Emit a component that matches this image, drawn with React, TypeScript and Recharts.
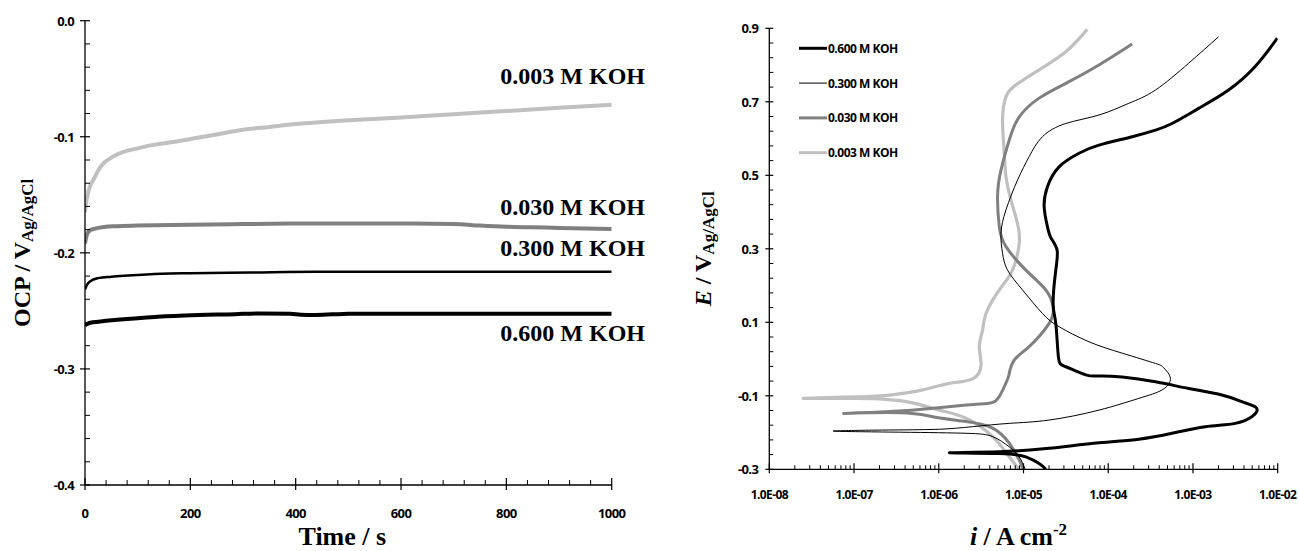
import React from 'react';
import { LineChart, Line, XAxis, YAxis, Label, LabelList, Legend } from 'recharts';

// ---------- Open-circuit potential vs time ----------
const t003 = [0, 2, 5, 10, 16, 25, 35, 50, 70, 100, 130, 160, 200, 250, 300, 350, 400, 450, 500, 600, 700, 800, 900, 1000];
const ocp003 = [-0.165, -0.157, -0.150, -0.142, -0.137, -0.129, -0.123, -0.118, -0.1135, -0.110, -0.107, -0.105, -0.102, -0.098, -0.094, -0.0915, -0.089, -0.0873, -0.0858, -0.0833, -0.0805, -0.0778, -0.075, -0.0725];

const t030 = [0, 2, 5, 10, 17, 36, 60, 100, 200, 300, 400, 500, 600, 700, 750, 800, 850, 900, 950, 1000];
const ocp030 = [-0.192, -0.187, -0.183, -0.1805, -0.1794, -0.1777, -0.177, -0.1765, -0.1758, -0.1752, -0.1748, -0.1748, -0.1748, -0.1752, -0.1765, -0.1775, -0.178, -0.1785, -0.179, -0.1795];

const t300 = [0, 4, 10, 25, 50, 82, 145, 200, 316, 437, 600, 800, 1000];
const ocp300 = [-0.2316, -0.2273, -0.2245, -0.2218, -0.2205, -0.2195, -0.218, -0.2175, -0.2169, -0.2163, -0.2163, -0.2163, -0.2163];

const t600 = [0, 5, 15, 36, 80, 126, 190, 285, 330, 390, 410, 437, 470, 500, 600, 800, 1000];
const ocp600 = [-0.2625, -0.261, -0.2598, -0.2588, -0.257, -0.2554, -0.254, -0.2528, -0.2522, -0.2524, -0.2533, -0.2535, -0.253, -0.2525, -0.2524, -0.2524, -0.2524];

// ---------- Potentiodynamic polarization (current density i, potential E) ----------
const i600 = [1.834e-5, 1.530e-5, 1.067e-5, 5.18e-6, 1.336e-6, 5.18e-6, 2.006e-5, 7.77e-5, 2.297e-4, 5.66e-4, 1.399e-3, 3.154e-3, 4.944e-3, 5.66e-3, 5.42e-3, 3.77e-3, 2.194e-3, 8.90e-4, 3.61e-4, 1.461e-4, 7.77e-5, 5.42e-5, 3.154e-5, 2.581e-5, 2.405e-5, 2.236e-5, 2.405e-5, 2.49e-5, 2.118e-5, 1.916e-5, 1.752e-5, 1.916e-5, 2.63e-5, 4.52e-5, 7.77e-5, 1.916e-4, 3.61e-4, 5.66e-4, 1.167e-3, 2.63e-3, 5.42e-3, 9.9e-3];
const e600 = [-0.3, -0.284, -0.266, -0.257, -0.255, -0.252, -0.243, -0.228, -0.218, -0.202, -0.184, -0.175, -0.157, -0.143, -0.130, -0.116, -0.098, -0.080, -0.062, -0.049, -0.046, -0.043, -0.021, 0.006, 0.097, 0.152, 0.242, 0.297, 0.329, 0.360, 0.415, 0.469, 0.523, 0.560, 0.582, 0.605, 0.623, 0.641, 0.682, 0.732, 0.796, 0.873];

const i300 = [1.047e-5, 8.90e-6, 6.79e-6, 4.32e-6, 2.101e-6, 3.45e-7, 5.66e-8, 2.63e-7, 1.019e-6, 2.51e-6, 6.79e-6, 2.006e-5, 7.77e-5, 2.297e-4, 4.32e-4, 5.42e-4, 4.52e-4, 3.61e-4, 1.461e-4, 5.93e-5, 2.63e-5, 1.673e-5, 9.73e-6, 6.48e-6, 5.66e-6, 5.42e-6, 6.21e-6, 8.50e-6, 1.167e-5, 1.673e-5, 3.154e-5, 7.77e-5, 1.752e-4, 3.61e-4, 8.90e-4, 2.006e-3];
const e300 = [-0.3, -0.266, -0.239, -0.211, -0.202, -0.199, -0.196, -0.193, -0.191, -0.184, -0.175, -0.166, -0.139, -0.107, -0.084, -0.052, -0.024, -0.012, 0.016, 0.047, 0.088, 0.124, 0.188, 0.242, 0.288, 0.342, 0.406, 0.487, 0.551, 0.605, 0.641, 0.664, 0.696, 0.732, 0.805, 0.877];

const i030 = [9.92e-6, 8.90e-6, 6.79e-6, 4.32e-6, 2.101e-6, 8.50e-7, 3.45e-7, 7.56e-8, 2.63e-7, 8.50e-7, 2.101e-6, 3.95e-6, 5.18e-6, 6.43e-6, 6.79e-6, 7.77e-6, 1.167e-5, 2.006e-5, 2.236e-5, 1.834e-5, 1.067e-5, 6.21e-6, 5.18e-6, 4.94e-6, 5.42e-6, 6.79e-6, 8.90e-6, 1.530e-5, 3.154e-5, 7.77e-5, 1.916e-4];
const e030 = [-0.3, -0.275, -0.229, -0.188, -0.170, -0.157, -0.146, -0.148, -0.143, -0.134, -0.125, -0.120, -0.102, -0.057, -0.039, -0.003, 0.034, 0.097, 0.142, 0.188, 0.242, 0.306, 0.360, 0.442, 0.514, 0.596, 0.659, 0.710, 0.750, 0.800, 0.857];

const i003 = [8.90e-6, 6.79e-6, 4.32e-6, 2.101e-6, 1.019e-6, 4.13e-7, 1.067e-7, 2.51e-8, 1.067e-7, 2.63e-7, 6.48e-7, 1.336e-6, 2.51e-6, 3.154e-6, 3.01e-6, 3.29e-6, 3.61e-6, 5.18e-6, 7.42e-6, 8.90e-6, 8.50e-6, 7.11e-6, 6.21e-6, 5.93e-6, 5.66e-6, 6.21e-6, 8.14e-6, 1.530e-5, 3.154e-5, 5.66e-5];
const e003 = [-0.3, -0.266, -0.211, -0.161, -0.139, -0.116, -0.107, -0.107, -0.103, -0.098, -0.084, -0.066, -0.054, -0.016, 0.034, 0.079, 0.124, 0.188, 0.242, 0.315, 0.369, 0.433, 0.496, 0.560, 0.650, 0.714, 0.746, 0.787, 0.836, 0.897];

// ---------- Axis ticks ----------
const timeMajor = [0, 200, 400, 600, 800, 1000];
const timeMinorStep = 40;
const ocpMajor = [0, -0.1, -0.2, -0.3, -0.4];
const ocpMinorStep = 0.02;
const currentDecades = [1e-8, 1e-7, 1e-6, 1e-5, 1e-4, 1e-3, 1e-2];
const currentLabels = ['1.0E-08', '1.0E-07', '1.0E-06', '1.0E-05', '1.0E-04', '1.0E-03', '1.0E-02'];
const potentialMajor = [-0.3, -0.1, 0.1, 0.3, 0.5, 0.7, 0.9];
const potentialMinorStep = 0.04;

const seriesNames = ['0.003 M KOH', '0.030 M KOH', '0.300 M KOH', '0.600 M KOH'];
const LIGHT = '#c0c0c0';
const MID = '#808080';
const BLACK = '#000000';

const zip = (xs: number[], ys: number[]) => xs.map((x, k) => ({ x, y: ys[k] }));

const steps = (from: number, to: number, step: number) => {
  const out: number[] = [];
  const n = Math.round((to - from) / step);
  for (let k = 0; k <= n; k++) out.push(+(from + k * step).toFixed(6));
  return out;
};

const timeTicks = steps(0, 1000, timeMinorStep);
const ocpTicks = steps(-0.4, 0, ocpMinorStep);
const potentialTicks = steps(-0.3, 0.9, potentialMinorStep);
const currentTicks: number[] = [];
currentDecades.forEach((d, k) => {
  currentTicks.push(d);
  if (k < currentDecades.length - 1) for (let m = 2; m <= 9; m++) currentTicks.push(+(d * m).toPrecision(3));
});

const isIn = (list: number[], v: number) => list.some((m) => Math.abs(m - v) < 1e-12 + Math.abs(m) * 1e-6);

const TICK_STYLE: React.CSSProperties = { fontFamily: '"Open Sans", "Noto Sans", sans-serif', fontWeight: 700, fontSize: 13, letterSpacing: -0.6, fill: '#000' };
const SERIF = '"Liberation Serif", "Times New Roman", serif';

// ---------- Tick renderers ----------
const makeXTick = (majors: number[], fmt: (v: number) => string, up: number, down: number, minorUp: number, labelGap: number, fs = 13) =>
  (props: any) => {
    const { x, y, payload } = props;
    const major = isIn(majors, payload.value);
    return (
      <g>
        {major ? (
          <line x1={x} x2={x} y1={y - up} y2={y + down} stroke="#000" strokeWidth={1.2} />
        ) : (
          <line x1={x} x2={x} y1={y - minorUp} y2={y} stroke="#000" strokeWidth={1} />
        )}
        {major && (
          <text x={x} y={y + labelGap} textAnchor="middle" dominantBaseline="central" style={{ ...TICK_STYLE, fontSize: fs }}>
            {fmt(payload.value)}
          </text>
        )}
      </g>
    );
  };

const makeYTick = (majors: number[], fmt: (v: number) => string, half: number, minorIn: number, labelGap: number) =>
  (props: any) => {
    const { x, y, payload } = props;
    const major = isIn(majors, payload.value);
    return (
      <g>
        {major ? (
          <line x1={x - half} x2={x + half} y1={y} y2={y} stroke="#000" strokeWidth={1.2} />
        ) : (
          <line x1={x} x2={x + minorIn} y1={y} y2={y} stroke="#000" strokeWidth={1} />
        )}
        {major && (
          <text x={x - labelGap} y={y} textAnchor="end" dominantBaseline="central" style={TICK_STYLE}>
            {fmt(payload.value)}
          </text>
        )}
      </g>
    );
  };

const TimeTick = makeXTick(timeMajor, (v) => String(v), 7, 5, 5, 28);
const OcpTick = makeYTick(ocpMajor, (v) => (Math.abs(v) < 1e-9 ? '0.0' : v.toFixed(1)), 5, 5, 11);
const CurrentTick = makeXTick(
  currentDecades,
  (v) => currentLabels[currentDecades.findIndex((d) => Math.abs(d - v) < d * 1e-6)],
  6, 4, 4, 25, 12
);
const PotentialTick = makeYTick(potentialMajor, (v) => v.toFixed(1), 4, 4, 11);

// ---------- Series labels at the end of each OCP curve ----------
const endLabel = (text: string, dy: number, count: number) => (props: any) => {
  const { x, y, index } = props;
  if (index !== count - 1) return <g />;
  return (
    <text x={x + 33.3} y={y + dy} textAnchor="end" style={{ fontFamily: SERIF, fontWeight: 700, fontSize: 24, fill: '#000' }}>
      {text}
    </text>
  );
};

// ---------- Legend for the polarization plot ----------
const legendRows = [
  { name: seriesNames[3], color: BLACK, width: 3 },
  { name: seriesNames[2], color: BLACK, width: 1 },
  { name: seriesNames[1], color: MID, width: 3 },
  { name: seriesNames[0], color: LIGHT, width: 3 },
];

const PolLegend = () => (
  <svg width={130} height={130} style={{ display: 'block' }}>
    {legendRows.map((r, k) => {
      const cy = 10.3 + k * 34.8;
      return (
        <g key={r.name}>
          <line x1={0} x2={28} y1={cy} y2={cy} stroke={r.color} strokeWidth={r.width} />
          <text x={29} y={cy} dominantBaseline="central" style={{ ...TICK_STYLE, fontSize: 12, letterSpacing: -0.5 }}>
            {r.name}
          </text>
        </g>
      );
    })}
  </svg>
);

export default function App() {
  const d003 = zip(t003, ocp003);
  const d030 = zip(t030, ocp030);
  const d300 = zip(t300, ocp300);
  const d600 = zip(t600, ocp600);

  const p003 = zip(i003, e003);
  const p030 = zip(i030, e030);
  const p300 = zip(i300, e300);
  const p600 = zip(i600, e600);

  return (
    <div style={{ position: 'absolute', left: 0, top: 0, width: 1299, height: 551, background: '#fff' }}>
      <div style={{ position: 'absolute', left: 0, top: 0 }}>
        <LineChart width={650} height={551} margin={{ top: 20.7, right: 38.3, bottom: 0, left: 0 }}>
          <XAxis
            type="number"
            dataKey="x"
            domain={[0, 1000]}
            ticks={timeTicks}
            interval={0}
            tickSize={0}
            tickMargin={0}
            tickLine={false}
            axisLine={{ stroke: '#000', strokeWidth: 1.3 }}
            tick={TimeTick}
            height={66}
            allowDataOverflow
          >
            <Label
              content={(p: any) => {
                const vb = p.viewBox;
                return (
                  <text x={vb.x + vb.width / 2 - 6} y={vb.y + 60} textAnchor="middle" style={{ fontFamily: SERIF, fontWeight: 700, fontSize: 26, fill: '#000' }}>
                    Time / s
                  </text>
                );
              }}
            />
          </XAxis>
          <YAxis
            type="number"
            dataKey="y"
            domain={[-0.4, 0]}
            ticks={ocpTicks}
            interval={0}
            tickSize={0}
            tickMargin={0}
            tickLine={false}
            axisLine={{ stroke: '#000', strokeWidth: 1.3 }}
            tick={OcpTick}
            width={85}
            allowDataOverflow
          >
            <Label
              content={(p: any) => {
                const vb = p.viewBox;
                const cx = vb.x + 22;
                const cy = vb.y + vb.height / 2;
                return (
                  <text x={cx} y={cy} transform={`rotate(-90 ${cx} ${cy})`} textAnchor="middle" dominantBaseline="central" style={{ fontFamily: SERIF, fontWeight: 700, fontSize: 24, fill: '#000' }}>
                    <tspan>OCP / V</tspan>
                    <tspan fontSize={17} dy={5}>Ag/AgCl</tspan>
                  </text>
                );
              }}
            />
          </YAxis>
          <Line data={d003} dataKey="y" type="monotone" stroke={LIGHT} strokeWidth={4} dot={false} isAnimationActive={false} name={seriesNames[0]}>
            <LabelList dataKey="y" content={endLabel(seriesNames[0], -21, d003.length)} />
          </Line>
          <Line data={d030} dataKey="y" type="monotone" stroke={MID} strokeWidth={4} dot={false} isAnimationActive={false} name={seriesNames[1]}>
            <LabelList dataKey="y" content={endLabel(seriesNames[1], -14, d030.length)} />
          </Line>
          <Line data={d300} dataKey="y" type="monotone" stroke={BLACK} strokeWidth={2.5} dot={false} isAnimationActive={false} name={seriesNames[2]}>
            <LabelList dataKey="y" content={endLabel(seriesNames[2], -16, d300.length)} />
          </Line>
          <Line data={d600} dataKey="y" type="monotone" stroke={BLACK} strokeWidth={4} dot={false} isAnimationActive={false} name={seriesNames[3]}>
            <LabelList dataKey="y" content={endLabel(seriesNames[3], 27, d600.length)} />
          </Line>
        </LineChart>
      </div>

      <div style={{ position: 'absolute', left: 650, top: 0 }}>
        <LineChart width={649} height={551} margin={{ top: 28.3, right: 21.3, bottom: 0, left: 0 }}>
          <XAxis
            type="number"
            dataKey="x"
            scale="log"
            domain={[1e-8, 1e-2]}
            ticks={currentTicks}
            interval={0}
            tickSize={0}
            tickMargin={0}
            tickLine={false}
            axisLine={{ stroke: '#000', strokeWidth: 1.3 }}
            tick={CurrentTick}
            height={81.7}
            allowDataOverflow
          >
            <Label
              content={(p: any) => {
                const vb = p.viewBox;
                return (
                  <text x={vb.x + vb.width / 2 - 5} y={vb.y + 76} textAnchor="middle" style={{ fontFamily: SERIF, fontWeight: 700, fontSize: 26, fill: '#000' }}>
                    <tspan fontStyle="italic">i</tspan>
                    <tspan> / A cm</tspan>
                    <tspan fontSize={17} dy={-10}>-2</tspan>
                  </text>
                );
              }}
            />
          </XAxis>
          <YAxis
            type="number"
            dataKey="y"
            domain={[-0.3, 0.9]}
            ticks={potentialTicks}
            interval={0}
            tickSize={0}
            tickMargin={0}
            tickLine={false}
            axisLine={{ stroke: '#000', strokeWidth: 1.3 }}
            tick={PotentialTick}
            width={119.3}
            allowDataOverflow
          >
            <Label
              content={(p: any) => {
                const vb = p.viewBox;
                const cx = vb.x + 53;
                const cy = vb.y + vb.height / 2;
                return (
                  <text x={cx} y={cy} transform={`rotate(-90 ${cx} ${cy})`} textAnchor="middle" dominantBaseline="central" style={{ fontFamily: SERIF, fontWeight: 700, fontSize: 24, fill: '#000' }}>
                    <tspan fontStyle="italic">E</tspan>
                    <tspan> / V</tspan>
                    <tspan fontSize={17} dy={5}>Ag/AgCl</tspan>
                  </text>
                );
              }}
            />
          </YAxis>
          <Legend content={<PolLegend />} layout="horizontal" verticalAlign="middle" align="center" wrapperStyle={{ left: 149, top: 38, width: 130, height: 130 }} />
          <Line data={p003} dataKey="y" type="natural" stroke={LIGHT} strokeWidth={3.2} dot={false} isAnimationActive={false} name={seriesNames[0]} />
          <Line data={p030} dataKey="y" type="natural" stroke={MID} strokeWidth={3} dot={false} isAnimationActive={false} name={seriesNames[1]} />
          <Line data={p300} dataKey="y" type="natural" stroke={BLACK} strokeWidth={1} dot={false} isAnimationActive={false} name={seriesNames[2]} />
          <Line data={p600} dataKey="y" type="natural" stroke={BLACK} strokeWidth={3} dot={false} isAnimationActive={false} name={seriesNames[3]} />
        </LineChart>
      </div>
    </div>
  );
}
